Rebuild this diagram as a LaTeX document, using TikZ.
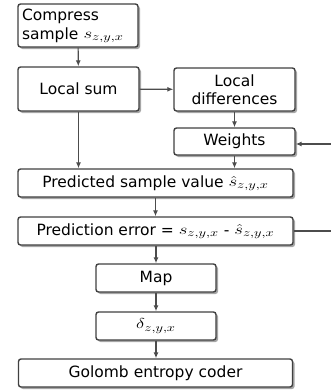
\documentclass[tikz,border=0pt]{standalone}
\usepackage{fontspec}
\setmainfont{DejaVu Sans}
\usetikzlibrary{arrows.meta,shadows}
\newcommand{\rmath}[1]{\raisebox{1pt}{\scalebox{1.3}[1]{$#1$}}}
\begin{document}
\begin{tikzpicture}[x=1pt,y=-1pt,
  box/.style={draw=black!75,line width=1.4pt,rounded corners=2.5pt,fill=white,
    drop shadow={shadow xshift=2pt,shadow yshift=-2pt,fill=black!35,opacity=1},
    inner sep=2pt,align=center,font=\fontsize{15.5}{17.5}\selectfont},
  conn/.style={draw=black!70,line width=1.1pt},
  arr/.style={conn,-{Latex[length=6pt,width=5pt]}}]
\useasboundingbox (0,0) rectangle (331,391);
\node[box,minimum width=120pt,minimum height=43pt,text width=112pt,align=left,font=\fontsize{15.5}{19}\selectfont] (cs) at (78,25.5) {Compress\\sample \rmath{s_{z,y,x}}};
\node[box,minimum width=121pt,minimum height=44pt] (ls) at (78.5,89) {Local sum};
\node[box,minimum width=121pt,minimum height=43pt] (ld) at (234.5,89.5) {Local\\differences};
\node[box,minimum width=121pt,minimum height=27pt] (w) at (234.5,141.5) {Weights};
\node[box,minimum width=275pt,minimum height=28pt] (ps) at (155.5,183) {Predicted sample value \rmath{\hat{s}_{z,y,x}}};
\node[box,minimum width=275pt,minimum height=28pt] (pe) at (155.5,231) {Prediction error = \rmath{s_{z,y,x}} - \rmath{\hat{s}_{z,y,x}}};
\node[box,minimum width=120pt,minimum height=28pt] (mp) at (156,278) {Map};
\node[box,minimum width=120pt,minimum height=28pt] (dl) at (156,326) {\rmath{\delta_{z,y,x}}};
\node[box,minimum width=274pt,minimum height=28pt] (gc) at (155.5,373) {Golomb entropy coder};
\coordinate (win) at (331,144);
\coordinate (eout) at (331,231);
\draw[arr] (cs) -- (ls);
\draw[arr] (ls) -- (ld);
\draw[arr] (ld) -- (w);
\draw[arr] (ls.south) -- (ls.south |- ps.north);
\draw[arr] (w.south) -- (w.south |- ps.north);
\draw[arr] (win) -- (w.east |- win);
\draw[conn] (pe.east |- eout) -- (eout);
\draw[arr] (ps) -- (pe);
\draw[arr] (pe.south -| mp) -- (mp);
\draw[arr] (mp) -- (dl);
\draw[arr] (dl) -- (dl |- gc.north);
\end{tikzpicture}
\end{document}
